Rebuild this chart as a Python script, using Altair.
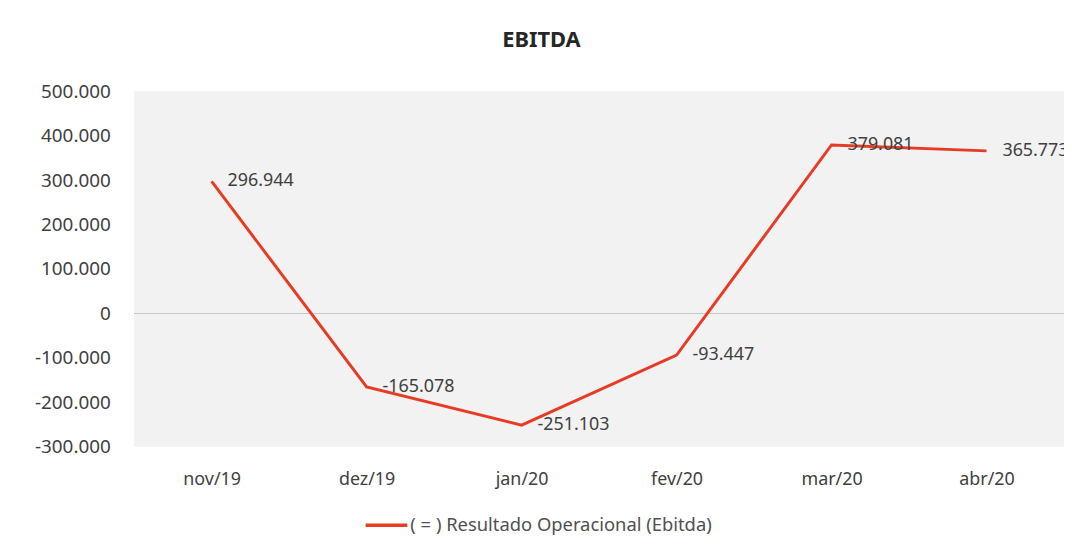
import altair as alt
import pandas as pd

months = ["nov/19", "dez/19", "jan/20", "fev/20", "mar/20", "abr/20"]
ebitda = [296944, -165078, -251103, -93447, 379081, 365773]
series_name = "( = ) Resultado Operacional (Ebitda)"
y_ticks = [-300000, -200000, -100000, 0, 100000, 200000, 300000, 400000, 500000]

df = pd.DataFrame({
    "mes": months,
    "valor": ebitda,
    "serie": [series_name] * len(months),
    "rotulo": [f"{v:,}".replace(",", ".") for v in ebitda],
})

FONT = "Noto Sans"
TXT = "#404040"
RED = "#e63c26"

x = alt.X("mes:N", sort=months, title=None,
          scale=alt.Scale(type="point", padding=0.5),
          axis=alt.Axis(labelFont=FONT, labelFontSize=18, labelColor=TXT,
                        labelPadding=24, domain=False, ticks=False, grid=False,
                        labelAngle=0))
y = alt.Y("valor:Q", title=None,
          scale=alt.Scale(domain=[-300000, 500000], nice=False, zero=False),
          axis=alt.Axis(values=y_ticks, labelFont=FONT, labelFontSize=19,
                        labelColor=TXT, labelPadding=24, domain=False, ticks=False,
                        gridColor="#d9d9d9", gridWidth=1,
                        labelExpr="replace(replace(format(datum.value, ','), ',', '.'), '\u2212', '-')"))

base = alt.Chart(df)

zero = base.mark_rule(color="#c8c8c8", strokeWidth=1.2).encode(y=alt.datum(0))

line = base.mark_line(strokeWidth=3).encode(
    x=x, y=y,
    color=alt.Color("serie:N", scale=alt.Scale(range=[RED]),
                    legend=alt.Legend(title=None, orient="none", legendX=231, legendY=414,
                                      symbolType="stroke", symbolStrokeWidth=3.5,
                                      symbolStrokeColor=RED, labelOffset=1,
                                      symbolSize=1760, labelFont=FONT, labelFontSize=18.5,
                                      labelColor="#505050", labelLimit=700)),
)

labels = base.mark_text(align="left", baseline="middle", dx=16, font=FONT,
                        fontSize=18, color=TXT).encode(
    x=x, y=y, text="rotulo:N")

chart = (zero + line + labels).properties(
    width=936, height=358,
    title=alt.TitleParams("EBITDA", font=FONT, fontSize=22, fontWeight="bold",
                          color="#262626", anchor="middle", dx=-58, offset=30),
    autosize=alt.AutoSizeParams(type="none"),
    padding={"left": 127, "top": 82, "right": 0, "bottom": 90},
    background="white",
).configure_view(fill="#f2f2f2", stroke=None)

chart.save("out.html", embed_options={"renderer": "svg", "actions": False})
